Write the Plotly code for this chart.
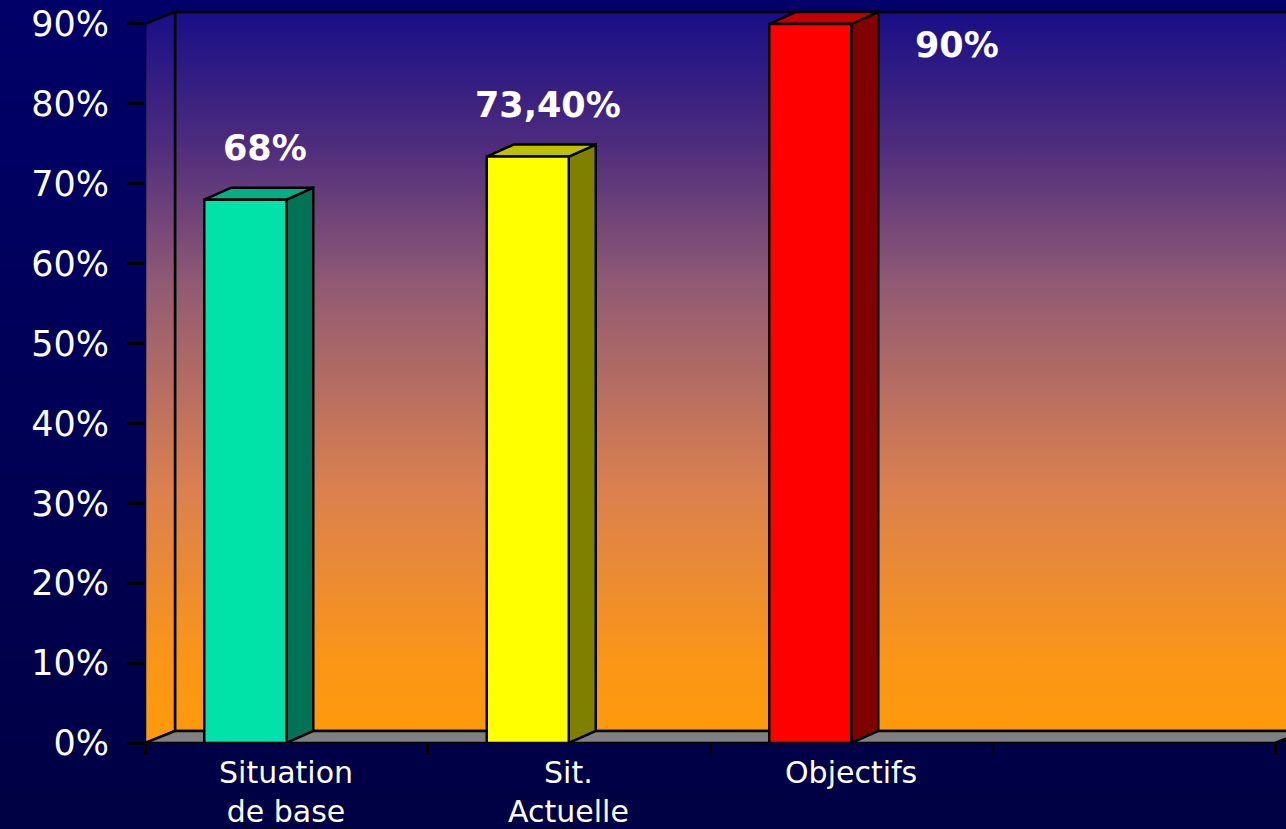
import plotly.graph_objects as go

# ---------------- data ----------------
categories = ["Situation\nde base", "Sit.\nActuelle", "Objectifs"]
values = [68, 73.4, 90]
value_labels = ["68%", "73,40%", "90%"]
front_colors = ["#00E3A8", "#FFFF00", "#FF0000"]
side_colors = ["#007256", "#808000", "#800000"]
top_colors = ["#00B083", "#C0C000", "#C00000"]
y_ticks = [0, 10, 20, 30, 40, 50, 60, 70, 80, 90]
y_tick_text = [f"{v}%" for v in y_ticks]
n_slots = 4  # category slots on the floor (last one empty)

# ---------------- geometry (style) ----------------
W, H = 1286, 829
ML, MB = 145, 86
PX_PER_CAT = 282.5
PX_PER_PCT = 7.99
X0 = -0.5
X1 = X0 + (W - ML) / PX_PER_CAT
Y1 = (H - MB) / PX_PER_PCT
DXW = 30 / PX_PER_CAT   # wall depth
DXB = 27 / PX_PER_CAT   # bar depth
DY = 12 / PX_PER_PCT
BAR_W = 82 / PX_PER_CAT
YMAX = 90
XEND = X0 + n_slots

wall_scale = [[0.0, "#ff9a0a"], [0.11, "#fb9616"], [0.35, "#da8050"],
              [0.63, "#905a74"], [0.82, "#4d2c7d"], [1.0, "#180e88"]]

fig = go.Figure()

def poly(xs, ys, fill=None, line_w=2.5, grad=None):
    kw = dict(x=xs, y=ys, mode="lines", fill="toself",
              line=dict(color="black", width=line_w),
              hoverinfo="skip", showlegend=False)
    if grad is not None:
        kw["fillgradient"] = dict(type="vertical", colorscale=grad,
                                  start=0, stop=YMAX + DY)
    else:
        kw["fillcolor"] = fill
    fig.add_trace(go.Scatter(**kw))

# back wall
poly([X0 + DXW, X1 + 1, X1 + 1, X0 + DXW, X0 + DXW],
     [DY, DY, YMAX + DY, YMAX + DY, DY], grad=wall_scale)
# side wall
poly([X0, X0 + DXW, X0 + DXW, X0, X0],
     [0, DY, YMAX + DY, YMAX, 0], grad=wall_scale)
# floor
poly([X0, XEND, XEND + DXW, X0 + DXW, X0],
     [0, 0, DY, DY, 0], fill="#808080")

# bars
for i, (v, fc, sc, tc) in enumerate(zip(values, front_colors, side_colors, top_colors)):
    xa, xb = i - BAR_W, i
    poly([xb, xb + DXB, xb + DXB, xb, xb], [0, DY, v + DY, v, 0], fill=sc)
    poly([xa, xb, xb + DXB, xa + DXB, xa], [v, v, v + DY, v + DY, v], fill=tc)
    poly([xa, xb, xb, xa, xa], [0, 0, v, v, 0], fill=fc)

annotations = []
for i, (v, lab) in enumerate(zip(values, value_labels)):
    if v + 6.5 > 88:
        ax, ay = i + 0.375, v - 2.6
    else:
        ax, ay = i - BAR_W / 2 + 0.07, v + 6.5
    annotations.append(dict(x=ax, y=ay, xref="x", yref="y", text=lab,
                            showarrow=False, xanchor="center", yanchor="middle",
                            font=dict(family="DejaVu Sans", size=35, color="white",
                                      weight="bold")))
for i, cat in enumerate(categories):
    annotations.append(dict(x=i, y=-10 / (H - MB), xref="x", yref="paper",
                            text=cat.replace("\n", "<br>"), showarrow=False,
                            xanchor="center", yanchor="top",
                            font=dict(family="DejaVu Sans", size=30, color="white")))

# page background gradient strips
shapes = []
N = 40
for k in range(N):
    t = k / (N - 1)
    b = int(round(0x68 + (0x44 - 0x68) * t))
    y_top = 1 - k / N
    y_bot = 1 - (k + 1) / N
    shapes.append(dict(type="rect", xref="paper", yref="paper", layer="below",
                       x0=-ML / (W - ML) - 0.01, x1=1.01,
                       y0=(y_bot * H - MB) / (H - MB) - 0.002,
                       y1=(y_top * H - MB) / (H - MB) + 0.002,
                       fillcolor=f"rgb(0,0,{b})", line=dict(width=0)))

fig.update_layout(
    width=W, height=H,
    margin=dict(l=ML, r=0, t=0, b=MB, pad=0),
    paper_bgcolor="#000058", plot_bgcolor="rgba(0,0,0,0)",
    shapes=shapes, annotations=annotations,
    xaxis=dict(range=[X0, X1], showgrid=False, zeroline=False, showline=False,
               tickmode="array", tickvals=[X0 + k for k in range(n_slots + 1)],
               ticktext=[""] * (n_slots + 1), ticks="outside", ticklen=11,
               tickwidth=3, tickcolor="black"),
    yaxis=dict(range=[0, Y1], showgrid=False, zeroline=False, showline=False,
               tickmode="array", tickvals=y_ticks, ticktext=y_tick_text,
               ticks="outside", ticklen=17, tickwidth=2.5, tickcolor="black",
               ticklabelstandoff=11,
               tickfont=dict(family="DejaVu Sans", size=35, color="white")),
)

fig.write_html("out.html", config={"displayModeBar": False},
               post_script="document.body.style.margin='0';")
